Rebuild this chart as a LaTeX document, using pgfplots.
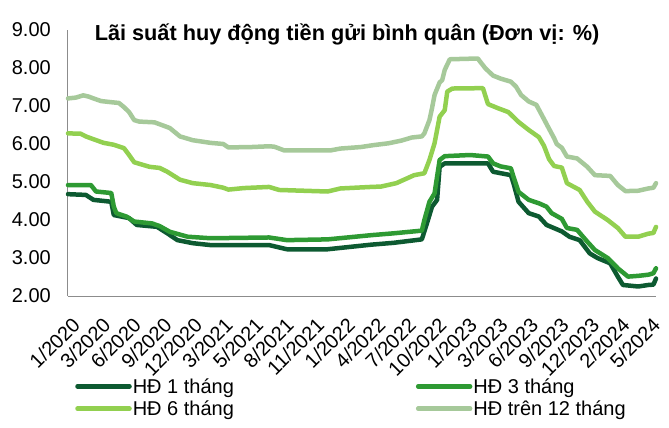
\documentclass[border=0pt]{standalone}
\usepackage{fontspec}
\setmainfont{Liberation Sans}
\usepackage{pgfplots}
\pgfplotsset{compat=1.18}
\definecolor{c1}{HTML}{0D5A31}
\definecolor{c3}{HTML}{2E9A33}
\definecolor{c6}{HTML}{92D050}
\definecolor{c12}{HTML}{A6C99A}
\definecolor{axgray}{HTML}{8C8C8C}
\newcommand{\f}{\fontsize{20}{24}\selectfont}
\begin{document}
\begin{tikzpicture}
\useasboundingbox (-68pt,-132pt) rectangle (601pt,296pt);
\begin{axis}[at={(0,0)}, anchor=south west, scale only axis,
  width=588pt, height=266pt,
  xmin=0, xmax=231, ymin=2, ymax=9, clip=false,
  axis x line*=bottom, axis y line*=left,
  axis line style={axgray, line width=1pt},
  major tick length=0pt,
  ytick={2,3,4,5,6,7,8,9},
  /pgf/number format/assume math mode=true,
  yticklabel style={/pgf/number format/fixed, /pgf/number format/fixed zerofill, /pgf/number format/precision=2,
    font=\f, inner sep=0pt, anchor=east, xshift=-17pt},
  xtick={0,12,24,36,48,60,72,84,96,108,120,132,144,156,168,180,192,204,216,228},
  xticklabels={1/2020,3/2020,6/2020,9/2020,12/2020,3/2021,5/2021,8/2021,11/2021,1/2022,4/2022,7/2022,10/2022,1/2023,3/2023,6/2023,9/2023,12/2023,2/2024,5/2024},
  xticklabel style={font=\f, xshift=3pt, yshift=-20pt, rotate=45, anchor=north east, inner sep=0pt},
  title={Lãi suất huy động tiền gửi bình quân (Đơn vị: \%)},
  title style={font=\bfseries\fontsize{21.7}{26}\selectfont, at={(axis description cs:0.4745,1)}, anchor=center, yshift=-10pt},
  every axis plot/.append style={line width=4.5pt, line join=round, line cap=round},
  legend columns=2,
  legend cell align=left,
  legend image code/.code={\draw[#1, line cap=round] (0pt,0pt) -- (52pt,0pt);},
  legend style={draw=none, fill=none, font=\f, inner sep=0pt,
    at={(axis description cs:0.012,-0.305)}, anchor=north west,
    nodes={inner sep=1pt}, row sep=4pt,
    /tikz/column 2/.style={column sep=181pt}},
]
\addplot[c1] coordinates {
(0,4.68)(7,4.66)(10,4.53)(17,4.48)(18,4.13)(24,4.05)(27,3.87)(35,3.82)(39,3.65)(43,3.47)(49,3.39)(56,3.34)(79,3.34)(86,3.23)(102,3.23)(119,3.35)(128,3.40)(139,3.49)(141,3.91)(143,4.35)(145,4.53)(146,5.40)(148,5.49)(165,5.49)(167,5.27)(174,5.18)(175,4.97)(177,4.48)(181,4.18)(185,4.09)(188,3.87)(194,3.70)(197,3.56)(201,3.47)(205,3.12)(208,3.00)(213,2.86)(216,2.51)(218,2.29)(224,2.25)(228,2.29)(230,2.30)(231,2.46)};
\addlegendentry{HĐ 1 tháng}
\addplot[c3] coordinates {
(0,4.92)(9,4.92)(11,4.75)(17,4.71)(18,4.35)(19,4.18)(23,4.09)(26,3.96)(33,3.91)(36,3.84)(40,3.69)(47,3.56)(56,3.52)(79,3.54)(86,3.47)(102,3.49)(119,3.60)(128,3.65)(139,3.72)(140,4.00)(142,4.48)(144,4.70)(146,5.58)(148,5.68)(158,5.71)(165,5.67)(167,5.49)(170,5.41)(174,5.36)(175,5.14)(177,4.74)(181,4.53)(185,4.44)(188,4.35)(190,4.18)(194,4.03)(196,3.79)(200,3.74)(204,3.43)(207,3.21)(212,3.00)(216,2.73)(220,2.51)(224,2.53)(228,2.56)(230,2.60)(231,2.73)};
\addlegendentry{HĐ 3 tháng}
\addplot[c6] coordinates {
(0,6.28)(5,6.27)(7,6.20)(9,6.15)(14,6.03)(18,5.98)(22,5.89)(24,5.71)(26,5.52)(32,5.40)(36,5.37)(39,5.27)(44,5.06)(49,4.97)(56,4.92)(61,4.85)(63,4.80)(69,4.84)(79,4.87)(83,4.79)(102,4.75)(107,4.83)(119,4.87)(123,4.88)(129,4.97)(136,5.18)(140,5.23)(142,5.58)(144,6.02)(146,6.72)(148,6.89)(149,7.38)(151,7.46)(163,7.47)(165,7.05)(169,6.94)(173,6.84)(177,6.58)(181,6.37)(185,6.18)(187,5.95)(189,5.60)(191,5.42)(194,5.38)(196,4.97)(201,4.79)(204,4.48)(207,4.22)(212,4.00)(216,3.79)(219,3.56)(224,3.56)(228,3.64)(230,3.66)(231,3.82)};
\addlegendentry{HĐ 6 tháng}
\addplot[c12] coordinates {
(0,7.20)(3,7.22)(6,7.28)(8,7.25)(10,7.20)(13,7.13)(17,7.10)(20,7.08)(22,6.97)(24,6.84)(26,6.63)(28,6.59)(34,6.57)(36,6.52)(40,6.42)(44,6.20)(49,6.10)(56,6.03)(61,6.00)(63,5.91)(72,5.92)(79,5.94)(81,5.93)(85,5.83)(103,5.83)(107,5.88)(115,5.92)(120,5.97)(126,6.02)(131,6.09)(135,6.17)(139,6.20)(140,6.28)(142,6.63)(143,6.94)(144,7.29)(146,7.62)(147,7.68)(148,7.95)(150,8.23)(161,8.25)(162,8.16)(164,7.99)(167,7.80)(170,7.72)(174,7.64)(176,7.51)(178,7.29)(181,7.12)(184,7.03)(186,6.78)(189,6.40)(191,6.15)(192,6.00)(194,5.90)(196,5.67)(200,5.62)(204,5.40)(207,5.18)(213,5.16)(216,4.92)(219,4.76)(224,4.77)(228,4.83)(230,4.85)(231,4.97)};
\addlegendentry{HĐ trên 12 tháng}
\end{axis}
\end{tikzpicture}
\end{document}
